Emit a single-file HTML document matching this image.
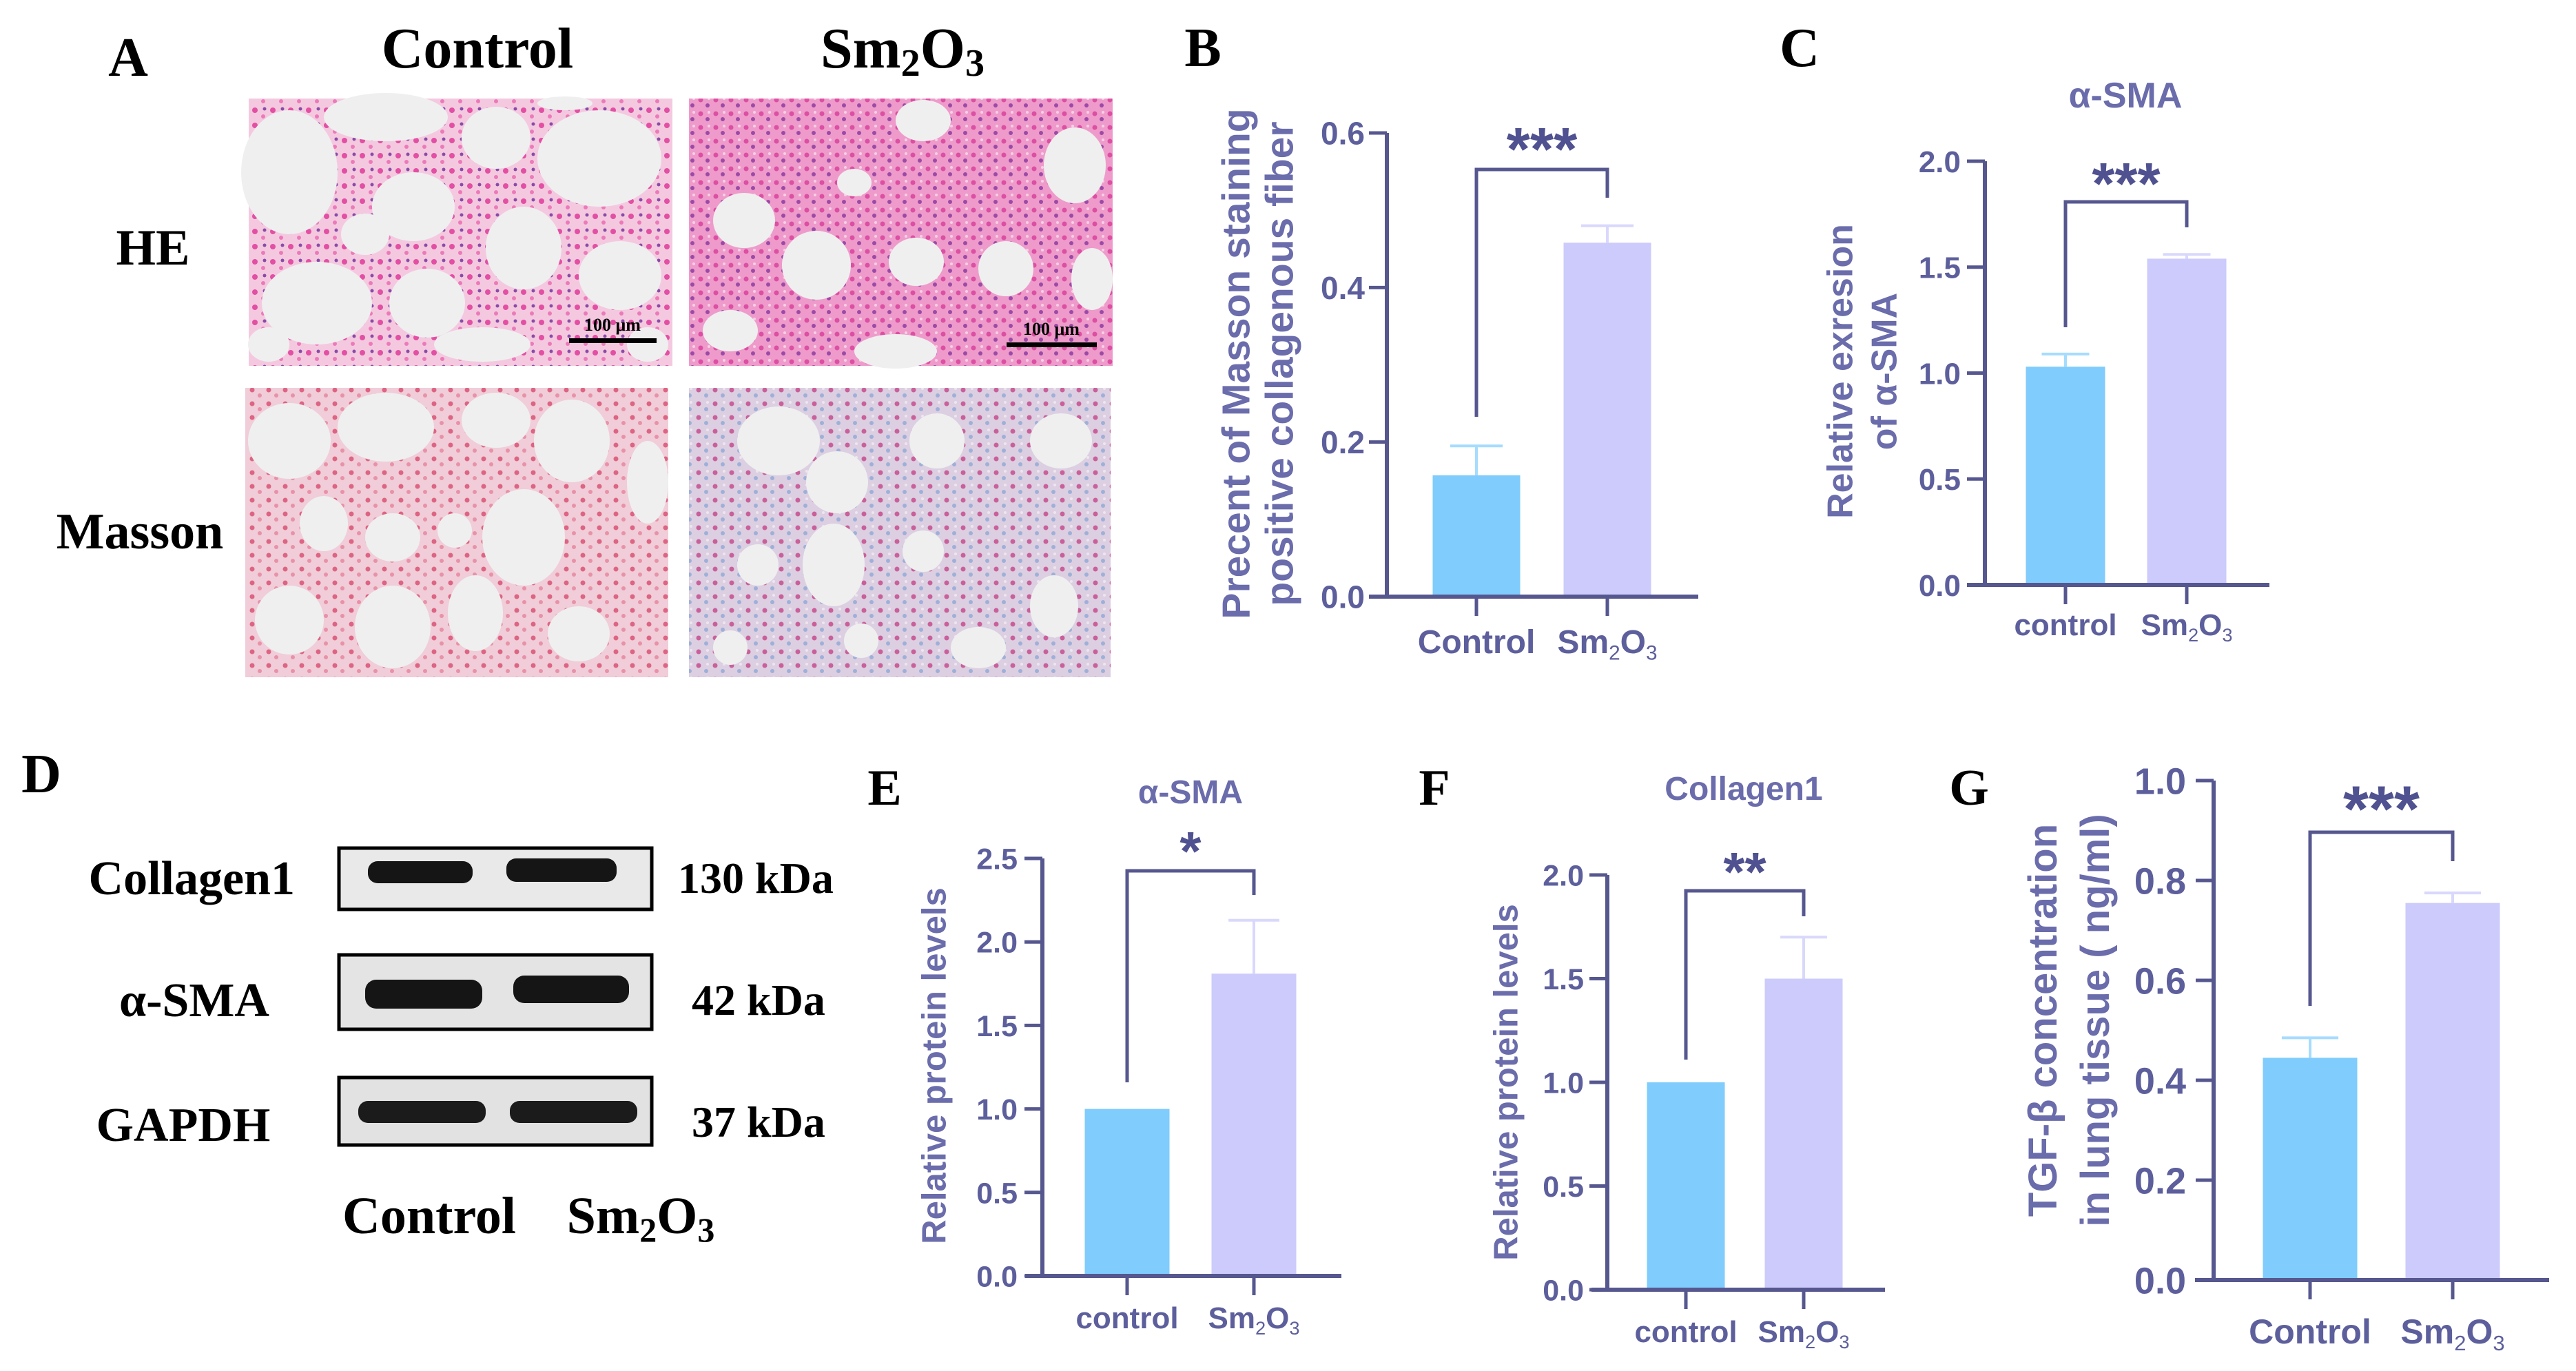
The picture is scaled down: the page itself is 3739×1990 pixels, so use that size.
<!DOCTYPE html>
<html><head><meta charset="utf-8"><style>
html,body{margin:0;padding:0;background:#fff;}
svg{display:block;}
.ser{font-family:"Liberation Serif",serif;font-weight:bold;fill:#000;}
.san{font-family:"Liberation Sans",sans-serif;}
</style></head><body>
<svg id="fig" width="3739" height="1990" viewBox="0 0 3739 1990" xmlns="http://www.w3.org/2000/svg">
<defs>
<pattern id="pinkDots" width="26" height="22" patternUnits="userSpaceOnUse">
<rect width="26" height="22" fill="#f4c9e0"/><circle cx="6" cy="6" r="4" fill="#e24fa3"/><circle cx="18" cy="15" r="3" fill="#ec7ab9"/><circle cx="20" cy="4" r="2.5" fill="#8a4aa8"/>
</pattern>
<pattern id="pinkDense" width="22" height="20" patternUnits="userSpaceOnUse">
<rect width="22" height="20" fill="#ee9bcb"/><circle cx="5" cy="5" r="3.5" fill="#dc4fa2"/><circle cx="15" cy="13" r="3" fill="#9b4aa6"/><circle cx="17" cy="3" r="2" fill="#f8d0e6"/>
</pattern>
<pattern id="massonC" width="24" height="20" patternUnits="userSpaceOnUse">
<rect width="24" height="20" fill="#f0cdd8"/><circle cx="6" cy="6" r="3.5" fill="#dd6483"/><circle cx="17" cy="14" r="3" fill="#e891a8"/>
</pattern>
<pattern id="massonS" width="24" height="20" patternUnits="userSpaceOnUse">
<rect width="24" height="20" fill="#dccfe2"/><circle cx="6" cy="6" r="3.5" fill="#c9609a"/><circle cx="17" cy="14" r="3" fill="#9eb0d8"/><circle cx="19" cy="4" r="2" fill="#eee6ef"/>
</pattern>
</defs>

<!-- Panel A -->
<text class="ser" x="186" y="110" font-size="80" text-anchor="middle">A</text>
<text class="ser" x="693" y="98" font-size="84" text-anchor="middle">Control</text>
<text class="ser" x="1310" y="98" font-size="84" text-anchor="middle">Sm<tspan font-size="56" dy="12">2</tspan><tspan dy="-12">O</tspan><tspan font-size="56" dy="12">3</tspan></text>
<text class="ser" x="222" y="384" font-size="74" text-anchor="middle">HE</text>
<text class="ser" x="203" y="796" font-size="74" text-anchor="middle">Masson</text>

<g>
<rect x="361" y="143" width="615" height="388" fill="url(#pinkDots)"/>
<g fill="#efefef">
<ellipse cx="420" cy="250" rx="70" ry="90"/><ellipse cx="560" cy="170" rx="90" ry="35"/><ellipse cx="600" cy="300" rx="60" ry="50"/>
<ellipse cx="720" cy="200" rx="50" ry="45"/><ellipse cx="870" cy="230" rx="90" ry="70"/><ellipse cx="460" cy="440" rx="80" ry="60"/>
<ellipse cx="620" cy="440" rx="55" ry="50"/><ellipse cx="760" cy="360" rx="55" ry="60"/><ellipse cx="900" cy="400" rx="60" ry="50"/>
<ellipse cx="700" cy="500" rx="70" ry="25"/><ellipse cx="390" cy="500" rx="30" ry="25"/><ellipse cx="530" cy="340" rx="35" ry="30"/>
<ellipse cx="820" cy="150" rx="40" ry="10"/><ellipse cx="940" cy="500" rx="30" ry="25"/>
</g>
<rect x="826" y="491" width="127" height="7" fill="#000"/>
<text class="ser" x="889" y="480" font-size="26" text-anchor="middle">100 μm</text>
</g>
<g>
<rect x="1000" y="143" width="615" height="388" fill="url(#pinkDense)"/>
<g fill="#efefef">
<ellipse cx="1340" cy="175" rx="40" ry="30"/><ellipse cx="1560" cy="240" rx="45" ry="55"/><ellipse cx="1080" cy="320" rx="45" ry="40"/>
<ellipse cx="1185" cy="385" rx="50" ry="50"/><ellipse cx="1330" cy="380" rx="40" ry="35"/><ellipse cx="1460" cy="390" rx="40" ry="40"/>
<ellipse cx="1585" cy="405" rx="30" ry="45"/><ellipse cx="1060" cy="480" rx="40" ry="30"/><ellipse cx="1300" cy="510" rx="60" ry="25"/>
<ellipse cx="1240" cy="265" rx="25" ry="20"/>
</g>
<rect x="1461" y="497" width="131" height="7" fill="#000"/>
<text class="ser" x="1526" y="486" font-size="26" text-anchor="middle">100 μm</text>
</g>
<g>
<rect x="356" y="563" width="614" height="420" fill="url(#massonC)"/>
<g fill="#efefef">
<ellipse cx="420" cy="640" rx="60" ry="55"/><ellipse cx="560" cy="620" rx="70" ry="50"/><ellipse cx="720" cy="610" rx="50" ry="40"/>
<ellipse cx="830" cy="640" rx="55" ry="60"/><ellipse cx="940" cy="700" rx="30" ry="60"/><ellipse cx="470" cy="760" rx="35" ry="40"/>
<ellipse cx="570" cy="780" rx="40" ry="35"/><ellipse cx="760" cy="780" rx="60" ry="70"/><ellipse cx="420" cy="900" rx="50" ry="50"/>
<ellipse cx="570" cy="910" rx="55" ry="60"/><ellipse cx="690" cy="890" rx="40" ry="55"/><ellipse cx="840" cy="920" rx="45" ry="40"/>
<ellipse cx="660" cy="770" rx="25" ry="25"/>
</g>
</g>
<g>
<rect x="1000" y="563" width="612" height="420" fill="url(#massonS)"/>
<g fill="#efefef">
<ellipse cx="1130" cy="640" rx="60" ry="50"/><ellipse cx="1215" cy="700" rx="45" ry="45"/><ellipse cx="1360" cy="640" rx="40" ry="40"/>
<ellipse cx="1540" cy="640" rx="45" ry="40"/><ellipse cx="1100" cy="820" rx="30" ry="30"/><ellipse cx="1210" cy="820" rx="45" ry="60"/>
<ellipse cx="1340" cy="800" rx="30" ry="30"/><ellipse cx="1530" cy="880" rx="35" ry="45"/><ellipse cx="1420" cy="940" rx="40" ry="30"/>
<ellipse cx="1250" cy="930" rx="25" ry="25"/><ellipse cx="1060" cy="940" rx="25" ry="25"/>
</g>
</g>

<!-- Panel D -->
<text class="ser" x="60" y="1150" font-size="80" text-anchor="middle">D</text>
<g>
<text class="ser" x="428" y="1298" font-size="70" text-anchor="end">Collagen1</text>
<text class="ser" x="282" y="1475" font-size="70" text-anchor="middle">α-SMA</text>
<text class="ser" x="266" y="1656" font-size="70" text-anchor="middle">GAPDH</text>
<text class="ser" x="984" y="1296" font-size="64">130 kDa</text>
<text class="ser" x="1004" y="1473" font-size="64">42 kDa</text>
<text class="ser" x="1004" y="1650" font-size="64">37 kDa</text>
<rect x="492" y="1231" width="454" height="89" fill="#e9e9e9" stroke="#000" stroke-width="5"/>
<rect x="492" y="1386" width="454" height="108" fill="#e4e4e4" stroke="#000" stroke-width="5"/>
<rect x="492" y="1564" width="454" height="98" fill="#e2e2e2" stroke="#000" stroke-width="5"/>
<rect x="534" y="1250" width="152" height="32" rx="14" fill="#151515"/><rect x="735" y="1246" width="160" height="34" rx="14" fill="#151515"/>
<rect x="530" y="1422" width="170" height="42" rx="16" fill="#151515"/><rect x="745" y="1416" width="168" height="40" rx="16" fill="#151515"/>
<rect x="520" y="1598" width="185" height="32" rx="14" fill="#1b1b1b"/><rect x="740" y="1598" width="185" height="32" rx="14" fill="#1b1b1b"/>
<text class="ser" x="623" y="1790" font-size="76" text-anchor="middle">Control</text>
<text class="ser" x="930" y="1790" font-size="76" text-anchor="middle">Sm<tspan font-size="50" dy="12">2</tspan><tspan dy="-12">O</tspan><tspan font-size="50" dy="12">3</tspan></text>
</g>

<text class="ser" x="1746" y="96" font-size="80" text-anchor="middle">B</text>
<text class="ser" x="2612" y="96" font-size="80" text-anchor="middle">C</text>
<text class="ser" x="1284" y="1168" font-size="74" text-anchor="middle">E</text>
<text class="ser" x="2082" y="1168" font-size="74" text-anchor="middle">F</text>
<text class="ser" x="2858" y="1168" font-size="74" text-anchor="middle">G</text>
<g id="charts"></g>
</svg>
<script>
// ---- data ----
const categories = ["Control", "Sm2O3"];
const bValues = [0.157, 0.458];
const bErrors = [0.195, 0.480];
const bTicks = [0, 0.2, 0.4, 0.6];
const bTickLabels = ["0.0", "0.2", "0.4", "0.6"];
const cValues = [1.03, 1.54];
const cErrors = [1.09, 1.56];
const cTicks = [0, 0.5, 1.0, 1.5, 2.0];
const cTickLabels = ["0.0", "0.5", "1.0", "1.5", "2.0"];
const eValues = [1.0, 1.81];
const eErrors = [1.0, 2.13];
const eTicks = [0, 0.5, 1.0, 1.5, 2.0, 2.5];
const eTickLabels = ["0.0", "0.5", "1.0", "1.5", "2.0", "2.5"];
const fValues = [1.0, 1.5];
const fErrors = [1.0, 1.7];
const fTicks = [0, 0.5, 1.0, 1.5, 2.0];
const fTickLabels = ["0.0", "0.5", "1.0", "1.5", "2.0"];
const gValues = [0.445, 0.755];
const gErrors = [0.485, 0.775];
const gTicks = [0, 0.2, 0.4, 0.6, 0.8, 1.0];
const gTickLabels = ["0.0", "0.2", "0.4", "0.6", "0.8", "1.0"];

const NS = "http://www.w3.org/2000/svg";
const root = document.getElementById("charts");
const AX = "#56578f", TXT = "#5d5f9c", TTL = "#6a6cab";
const BARC = ["#7fccfd", "#cccbfb"], ERRC = ["#a6dcfe", "#d9d8fc"];

function mk(tag, attrs, parent) {
  const e = document.createElementNS(NS, tag);
  for (const k in attrs) e.setAttribute(k, attrs[k]);
  parent.appendChild(e);
  return e;
}
function catLabel(parent, txt, x, y, fs) {
  const t = mk("text", {x: x, y: y, "font-size": fs, "text-anchor": "middle", fill: TXT, "font-weight": "bold", class: "san"}, parent);
  if (txt === "Sm2O3") {
    t.appendChild(document.createTextNode("Sm"));
    const s1 = mk("tspan", {"font-size": fs * 0.62, dy: fs * 0.2, "font-weight": "normal"}, t); s1.textContent = "2";
    const s2 = mk("tspan", {dy: -fs * 0.2}, t); s2.textContent = "O";
    const s3 = mk("tspan", {"font-size": fs * 0.62, dy: fs * 0.2, "font-weight": "normal"}, t); s3.textContent = "3";
  } else t.textContent = txt;
  return t;
}

function drawChart(c) {
  const g = mk("g", {}, root);
  
  
  const maxV = c.ticks[c.ticks.length - 1];
  const yS = v => c.y0 - (v / maxV) * (c.y0 - c.yTop);
  c.values.forEach((v, i) => {
    const cx = c.centers[i];
    const bar = mk("rect", {x: cx - c.bw / 2, y: yS(v), width: c.bw, height: c.y0 - yS(v), fill: BARC[i]}, g);
    
    
    const ev = c.errors[i];
    if (ev > v) {
      const eb = mk("path", {d: `M${cx} ${yS(v)}V${yS(ev)}M${cx - c.bw * 0.3} ${yS(ev)}H${cx + c.bw * 0.3}`, stroke: ERRC[i], "stroke-width": 4, fill: "none"}, g);
      
      
    }
  });
  const ya = mk("path", {d: `M${c.ax} ${c.yTop}V${c.y0}`, stroke: AX, "stroke-width": 6, fill: "none"}, g);
  
  
  const xa = mk("path", {d: `M${c.xStart} ${c.y0}H${c.xEnd}`, stroke: AX, "stroke-width": 6, fill: "none"}, g);
  
  
  c.ticks.forEach((t, i) => {
    const y = yS(t);
    mk("path", {d: `M${c.ax - 26} ${y}H${c.ax}`, stroke: AX, "stroke-width": 5}, g);
    const tl = mk("text", {x: c.tickRight, y: y + c.tfs * 0.36, "font-size": c.tfs, "text-anchor": "end", fill: TXT, class: "san", "font-weight": "bold"}, g);
    tl.textContent = c.tickLabels[i];
    
    
  });
  categories.forEach((cat, i) => {
    const cx = c.centers[i];
    mk("path", {d: `M${cx} ${c.y0}V${c.y0 + 28}`, stroke: AX, "stroke-width": 5}, g);
    const lbl = catLabel(g, i === 0 ? c.cat0 : cat, cx, c.labelY, c.lfs);
    
    
  });
  const br = mk("path", {d: `M${c.centers[0]} ${c.brL}V${c.brTop}H${c.centers[1]}V${c.brR}`, stroke: AX, "stroke-width": 5, fill: "none"}, g);
  
  
  const st = mk("text", {x: (c.centers[0] + c.centers[1]) / 2, y: c.starY + c.sfs * 0.55, "font-size": c.sfs, "text-anchor": "middle", fill: "#4f5190", class: "san", "font-weight": "bold"}, g);
  st.textContent = c.stars;
  
  
  if (c.title) {
    const tt = mk("text", {x: c.title[1], y: c.title[2], "font-size": c.title[3], "text-anchor": "middle", fill: TTL, class: "san", "font-weight": "bold"}, g);
    tt.textContent = c.title[0];
    
    
  }
  c.ytitle.forEach(([txt, x]) => {
    const yt = mk("text", {x: 0, y: 0, "font-size": c.yfs, "text-anchor": "middle", fill: TTL, class: "san", "font-weight": "bold",
      transform: `translate(${x + c.yfs * 0.36},${c.ytY}) rotate(-90)`}, g);
    yt.textContent = txt;
    
    
  });
}

drawChart({name: "chart-b-masson", values: bValues, errors: bErrors, ticks: bTicks, tickLabels: bTickLabels,
  ax: 2013, y0: 866, yTop: 193, xStart: 1987, xEnd: 2465, centers: [2143, 2333], bw: 127, tickRight: 1981, tfs: 46,
  cat0: "Control", labelY: 948, lfs: 48, brTop: 246, brL: 605, brR: 287, stars: "***", starY: 198, sfs: 88,
  title: null, ytitle: [["Precent of Masson staining", 1793], ["positive collagenous fiber", 1856]], yfs: 57, ytY: 528});
drawChart({name: "chart-c-asma", values: cValues, errors: cErrors, ticks: cTicks, tickLabels: cTickLabels,
  ax: 2881, y0: 849, yTop: 234, xStart: 2855, xEnd: 3294, centers: [2998, 3174], bw: 115, tickRight: 2846, tfs: 44,
  cat0: "control", labelY: 922, lfs: 44, brTop: 293, brL: 475, brR: 330, stars: "***", starY: 249, sfs: 85,
  title: ["α-SMA", 3085, 156, 52], ytitle: [["Relative exresion", 2670], ["of α-SMA", 2734]], yfs: 52, ytY: 539});
drawChart({name: "chart-e-asma-protein", values: eValues, errors: eErrors, ticks: eTicks, tickLabels: eTickLabels,
  ax: 1513, y0: 1852, yTop: 1246, xStart: 1488, xEnd: 1947, centers: [1636, 1820], bw: 123, tickRight: 1477, tfs: 43,
  cat0: "control", labelY: 1928, lfs: 44, brTop: 1264, brL: 1571, brR: 1299, stars: "*", starY: 1219, sfs: 80,
  title: ["α-SMA", 1728, 1166, 48], ytitle: [["Relative  protein levels", 1355]], yfs: 49, ytY: 1547});
drawChart({name: "chart-f-collagen1", values: fValues, errors: fErrors, ticks: fTicks, tickLabels: fTickLabels,
  ax: 2333, y0: 1872, yTop: 1270, xStart: 2310, xEnd: 2736, centers: [2447, 2618], bw: 113, tickRight: 2299, tfs: 43,
  cat0: "control", labelY: 1948, lfs: 44, brTop: 1293, brL: 1538, brR: 1330, stars: "**", starY: 1249, sfs: 80,
  title: ["Collagen1", 2531, 1161, 48], ytitle: [["Relative  protein levels", 2185]], yfs: 49, ytY: 1571});
drawChart({name: "chart-g-tgfb", values: gValues, errors: gErrors, ticks: gTicks, tickLabels: gTickLabels,
  ax: 3213, y0: 1858, yTop: 1133, xStart: 3186, xEnd: 3700, centers: [3353, 3560], bw: 137, tickRight: 3173, tfs: 54,
  cat0: "Control", labelY: 1950, lfs: 50, brTop: 1208, brL: 1460, brR: 1250, stars: "***", starY: 1154, sfs: 95,
  title: null, ytitle: [["TGF-β concentration", 2964], ["in lung tissue ( ng/ml)", 3040]], yfs: 58, ytY: 1481});
</script>
</body></html>
